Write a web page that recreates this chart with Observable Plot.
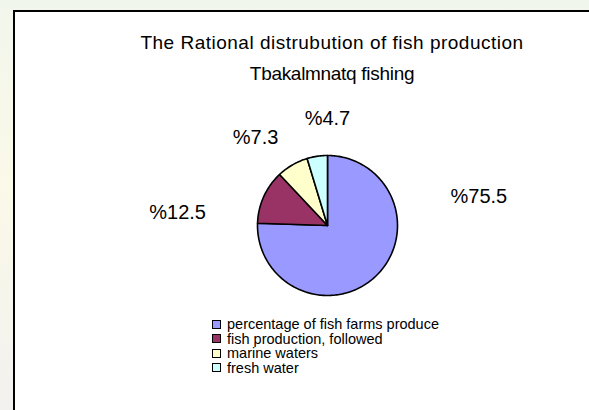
<!DOCTYPE html>
<html>
<head>
<meta charset="utf-8">
<script src="https://cdn.jsdelivr.net/npm/d3@7"></script>
<script src="https://cdn.jsdelivr.net/npm/@observablehq/plot@0.6"></script>
<style>
  html, body { margin: 0; padding: 0; }
  body {
    width: 589px; height: 410px; overflow: hidden; position: relative;
    font-family: "Liberation Sans", Arial, sans-serif;
    background: linear-gradient(180deg, #f1f6ec 0%, #fbf9e8 45%, #f2f1ef 100%);
  }
  #box {
    position: absolute; left: 13px; top: 10px; width: 620px; height: 420px;
    background: #fff; border: 2px solid #000; box-sizing: border-box;
  }
  #title {
    position: absolute; left: 0; top: 27px; text-align: center;
    font-size: 19px; line-height: 31px; color: #000;
  }
  #title .l0 { letter-spacing: 0.5px; }
  #title .l1 { letter-spacing: -0.3px; }
  #chart { position: absolute; left: 0; top: 0; }
  #legend {
    position: absolute; left: 212px; top: 317px; font-size: 14.5px; line-height: 14.5px; color: #000;
  }
  #legend .row { display: flex; align-items: center; height: 14.5px; }
  #legend .sw { width: 7px; height: 7px; border: 1px solid #000; margin-right: 6px; }
</style>
</head>
<body>
<div id="box"></div>
<div id="title"></div>
<div id="chart"></div>
<div id="legend"></div>
<script>
// ---- data ----
const titleLines = ["The Rational distrubution of fish production", "Tbakalmnatq fishing"];
const categories = ["percentage of fish farms produce", "fish production, followed", "marine waters", "fresh water"];
const values = [75.5, 12.5, 7.3, 4.7];
const labels = ["%75.5", "%12.5", "%7.3", "%4.7"];
const colors = ["#9999FF", "#993366", "#FFFFCC", "#CCFFFF"];

// ---- layout (not data) ----
const W = 589, H = 410, cx = 327, cy = 225, R = 70;
// best-fit label placement, as angle shift from slice mid-angle and radius multiple of R
const labelShift = [-0.987, -0.336, -0.162, 0.147];
const labelRadius = [2.2, 2.15, 1.62, 1.53];

// ---- title ----
const t = document.getElementById("title");
t.style.width = (2 * 332) + "px";
t.innerHTML = titleLines.map((s, i) => `<span class="l${i}">${s}</span>`).join("<br>");

// ---- pie geometry from data ----
const pie = d3.pie().sort(null).value(d => d)(values);
const polys = [];
pie.forEach((p, i) => {
  const n = Math.max(2, Math.ceil((p.endAngle - p.startAngle) / 0.02));
  polys.push({i, x: 0, y: 0});
  for (let j = 0; j <= n; j++) {
    const a = p.startAngle + (p.endAngle - p.startAngle) * j / n;
    polys.push({i, x: Math.sin(a), y: Math.cos(a)});
  }
  polys.push({i, x: 0, y: 0});
});

const labelPts = pie.map((p, i) => {
  const a = (p.startAngle + p.endAngle) / 2 + labelShift[i];
  return {label: labels[i], x: Math.sin(a) * labelRadius[i], y: Math.cos(a) * labelRadius[i]};
});

const chart = Plot.plot({
  width: W, height: H,
  margin: 0,
  x: {domain: [-cx / R, (W - cx) / R], range: [0, W], axis: null},
  y: {domain: [-(H - cy) / R, cy / R], range: [H, 0], axis: null},
  color: {domain: d3.range(values.length), range: colors},
  style: {background: "transparent", overflow: "visible"},
  marks: [
    Plot.line(polys, {x: "x", y: "y", z: "i", fill: "i", stroke: "#000", strokeWidth: 1.6, strokeLinejoin: "round", curve: "linear"}),
    Plot.text(labelPts, {x: "x", y: "y", text: "label", fontSize: 20, fill: "#000", fontFamily: "Liberation Sans, Arial, sans-serif"})
  ]
});
document.getElementById("chart").appendChild(chart);

// ---- legend ----
const lg = document.getElementById("legend");
categories.forEach((c, i) => {
  const row = document.createElement("div");
  row.className = "row";
  row.innerHTML = `<span class="sw" style="background:${colors[i]}"></span><span>${c}</span>`;
  lg.appendChild(row);
});
</script>
</body>
</html>
